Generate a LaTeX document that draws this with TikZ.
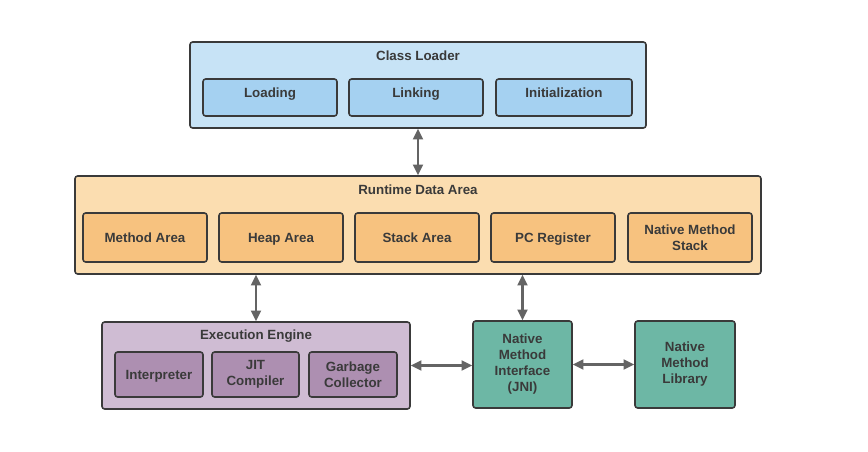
\documentclass[tikz,border=0pt]{standalone}
\usepackage{fontspec}
\setmainfont{Liberation Sans}
\usepackage{tikz}
\usetikzlibrary{calc, arrows.meta, shapes}
\definecolor{lineGray}{HTML}{3A3A3A}
\definecolor{arrowGray}{HTML}{646464}
\definecolor{loaderOut}{HTML}{C7E3F6}
\definecolor{loaderIn}{HTML}{A5D1F1}
\definecolor{dataOut}{HTML}{FBDDB0}
\definecolor{dataIn}{HTML}{F7C27F}
\definecolor{engineOut}{HTML}{CFBCD3}
\definecolor{engineIn}{HTML}{AD8FB1}
\definecolor{nativeCol}{HTML}{6DB7A5}
\tikzset{>={Triangle[length = 8pt, width = 7.5pt]}}
\tikzset{
  box/.style = {draw = lineGray, line width = 1.2pt, rounded corners = 2pt, inner sep = 0pt,
    text = lineGray, font = \fontsize{10}{12}\selectfont\bfseries, align = center},
  oneline/.style = {text height = 7.2pt, text depth = 0pt},
  highline/.style = {text height = 7.2pt, text depth = 6.8pt},
  title/.style = {text = lineGray, font = \fontsize{10}{12}\selectfont\bfseries},
  link/.style = {<->, draw = arrowGray, line width = 1.6pt}
}

\begin{document}
\begin{tikzpicture}[x = 0.75pt, y = -0.75pt]
\useasboundingbox (0, 0) rectangle (868, 452);

\begin{scope}
\node[box, fill = loaderOut, minimum width = 342pt, minimum height = 64.5pt] (loader) at (418, 85) {};
\node[title] (loaderT) at (418, 56) {Class Loader};
\node[box, highline, fill = loaderIn, minimum width = 100.5pt, minimum height = 27.75pt] (loading) at (270, 97.5) {Loading};
\node[box, highline, fill = loaderIn, minimum width = 100.5pt, minimum height = 27.75pt] (linking) at (416, 97.5) {Linking};
\node[box, highline, fill = loaderIn, minimum width = 102pt, minimum height = 27.75pt] (init) at (564, 97.5) {Initialization};
\end{scope}

\begin{scope}
\node[box, fill = dataOut, minimum width = 514.5pt, minimum height = 73.5pt] (data) at (418, 225) {};
\node[title] (dataT) at (418, 190) {Runtime Data Area};
\foreach \name/\xpos/\lbl in {method/145/Method Area, heap/281/Heap Area, stack/417/Stack Area,
    pc/553/PC Register}
  \node[box, oneline, fill = dataIn, minimum width = 93pt, minimum height = 36.75pt] (\name) at (\xpos, 237.5) {\lbl};
\node[box, fill = dataIn, minimum width = 93pt, minimum height = 36.75pt] (nstack) at (690, 237.5) {Native Method\\Stack};
\end{scope}

\begin{scope}
\node[box, fill = engineOut, minimum width = 231pt, minimum height = 65.25pt] (engine) at (256, 365.5) {};
\node[title] (engineT) at (256, 336) {Execution Engine};
\node[box, oneline, fill = engineIn, minimum width = 66pt, minimum height = 33.75pt] (interp) at (159, 374.5) {Interpreter};
\node[box, fill = engineIn, minimum width = 65.25pt, minimum height = 33.75pt] (jit) at (255.5, 374.5) {JIT\\Compiler};
\node[box, fill = engineIn, minimum width = 66pt, minimum height = 33.75pt] (gc) at (353, 374.5) {Garbage\\Collector};
\end{scope}

\node[box, fill = nativeCol, minimum width = 74.25pt, minimum height = 65.25pt] (jni) at (522.5, 364.5) {Native\\Method\\Interface\\(JNI)};
\node[box, fill = nativeCol, minimum width = 75pt, minimum height = 65.25pt] (nlib) at (685, 364.5) {Native\\Method\\Library};

\draw[link] (loader.south) -- (data.north);
\draw[link] (data.south -| engine.north) -- (engine.north);
\draw[link] (data.south -| jni.north) -- (jni.north);
\draw[link] (engine.east) -- (engine.east -| jni.west);
\draw[link] (jni.east) -- (nlib.west);
\end{tikzpicture}
\end{document}
